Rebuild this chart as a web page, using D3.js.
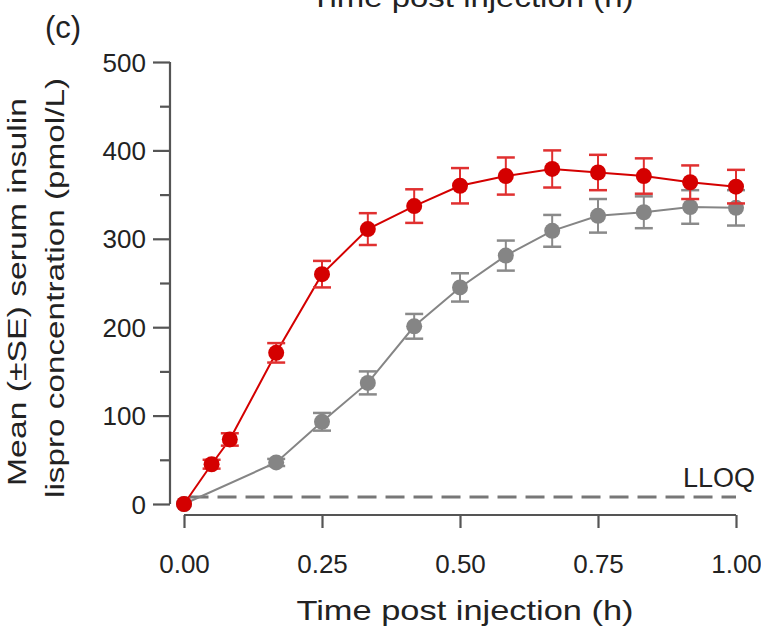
<!DOCTYPE html>
<html><head><meta charset="utf-8">
<script src="https://cdn.jsdelivr.net/npm/d3@7"></script>
<style>body{margin:0;background:#fff}svg{display:block}text{font-family:"Liberation Sans",Arial,Helvetica,sans-serif}</style>
</head><body>
<script>
const redTimes = [0, 0.05, 0.083, 0.167, 0.25, 0.333, 0.417, 0.5, 0.583, 0.667, 0.75, 0.833, 0.917, 1.0];
const redMeans = [0, 45, 73, 171, 260, 311, 337, 360, 371, 379, 375, 371, 364, 359];
const redSE    = [0, 5, 7, 11, 15, 18, 19, 20, 21, 21, 20, 20, 19, 19];
const grayTimes = [0, 0.167, 0.25, 0.333, 0.417, 0.5, 0.583, 0.667, 0.75, 0.833, 0.917, 1.0];
const grayMeans = [0, 47, 93, 137, 201, 245, 281, 309, 326, 330, 336, 335];
const graySE    = [0, 4, 10, 13, 14, 16, 17, 18, 19, 18, 19, 20];
const xTicks = [0, 0.25, 0.5, 0.75, 1.0];
const yTicks = [0, 100, 200, 300, 400, 500];
const yMinorTicks = [50, 150, 250, 350, 450];
const lloq = 8;

const W = 761, H = 634;
const svg = d3.select("body").append("svg").attr("width", W).attr("height", H);
const x = d3.scaleLinear().domain([0, 1]).range([184, 736]);
const y = d3.scaleLinear().domain([0, 500]).range([504, 62]);
const axisColor = "#555";
const textColor = "#222";

// Y axis
const yAx = svg.append("g").attr("transform", "translate(170,0)")
  .call(d3.axisLeft(y).tickValues(yTicks).tickSize(17).tickPadding(7).tickFormat(d3.format("d")));
yAx.select(".domain").attr("stroke", axisColor).attr("stroke-width", 2.2).attr("d", `M0,${y(500)}V${y(0)}`);
yAx.selectAll(".tick line").attr("stroke", axisColor).attr("stroke-width", 2.2);
yAx.selectAll(".tick text").attr("font-size", 26).attr("fill", textColor).attr("dy", "0.35em");
const yAxMinor = svg.append("g").attr("transform", "translate(170,0)")
  .call(d3.axisLeft(y).tickValues(yMinorTicks).tickSize(10).tickFormat(""));
yAxMinor.select(".domain").remove();
yAxMinor.selectAll(".tick line").attr("stroke", axisColor).attr("stroke-width", 2.2);

// X axis
const xAx = svg.append("g").attr("transform", "translate(0,515)")
  .call(d3.axisBottom(x).tickValues(xTicks).tickSize(13).tickPadding(0).tickFormat(d3.format(".2f")));
xAx.select(".domain").attr("stroke", axisColor).attr("stroke-width", 2.2).attr("d", `M${x(0)},0H${x(1)}`);
xAx.selectAll(".tick line").attr("stroke", axisColor).attr("stroke-width", 2.2);
xAx.selectAll(".tick text").attr("font-size", 26).attr("fill", textColor).attr("dy", null).attr("y", 58);

// Axis titles
svg.append("text").attr("x", 465).attr("y", 620).attr("text-anchor", "middle")
  .attr("font-size", 28).attr("fill", textColor)
  .attr("textLength", 337).attr("lengthAdjust", "spacingAndGlyphs").text("Time post injection (h)");
svg.append("text").attr("x", 472).attr("y", 7).attr("text-anchor", "middle")
  .attr("font-size", 28).attr("fill", textColor)
  .attr("textLength", 323).attr("lengthAdjust", "spacingAndGlyphs").text("Time post injection (h)");
svg.append("text").attr("transform", "translate(26,292) rotate(-90)").attr("text-anchor", "middle")
  .attr("font-size", 26).attr("fill", textColor)
  .attr("textLength", 388).attr("lengthAdjust", "spacingAndGlyphs").text("Mean (±SE) serum insulin");
svg.append("text").attr("transform", "translate(64,288) rotate(-90)").attr("text-anchor", "middle")
  .attr("font-size", 26).attr("fill", textColor)
  .attr("textLength", 420).attr("lengthAdjust", "spacingAndGlyphs").text("lispro concentration (pmol/L)");
svg.append("text").attr("x", 45).attr("y", 38).attr("font-size", 31).attr("fill", textColor).text("(c)");

// LLOQ
svg.append("line").attr("x1", x(0.01)).attr("x2", x(1.0)).attr("y1", y(lloq)).attr("y2", y(lloq))
  .attr("stroke", "#777").attr("stroke-width", 3).attr("stroke-dasharray", "19,9");
svg.append("text").attr("x", 755).attr("y", 487).attr("text-anchor", "end")
  .attr("font-size", 27).attr("fill", textColor).text("LLOQ");

function series(times, means, se, color, capColor) {
  const g = svg.append("g");
  const pts = times.map((t, i) => ({t, m: means[i], s: se[i]}));
  g.append("path").datum(pts).attr("fill", "none").attr("stroke", color).attr("stroke-width", 2)
    .attr("d", d3.line().x(d => x(d.t)).y(d => y(d.m)));
  const eb = g.selectAll(".eb").data(pts.filter(d => d.s > 0)).enter().append("g");
  eb.append("line").attr("x1", d => x(d.t)).attr("x2", d => x(d.t))
    .attr("y1", d => y(d.m - d.s)).attr("y2", d => y(d.m + d.s)).attr("stroke", capColor).attr("stroke-width", 2);
  [1, -1].forEach(sg => {
    eb.append("line").attr("x1", d => x(d.t) - 9).attr("x2", d => x(d.t) + 9)
      .attr("y1", d => y(d.m + sg * d.s)).attr("y2", d => y(d.m + sg * d.s))
      .attr("stroke", capColor).attr("stroke-width", 2.5);
  });
  g.selectAll("circle").data(pts).enter().append("circle")
    .attr("cx", d => x(d.t)).attr("cy", d => y(d.m)).attr("r", 8).attr("fill", color);
}
series(grayTimes, grayMeans, graySE, "#858585", "#8a8a8a");
series(redTimes, redMeans, redSE, "#d40000", "#e03030");
</script>
</body></html>
